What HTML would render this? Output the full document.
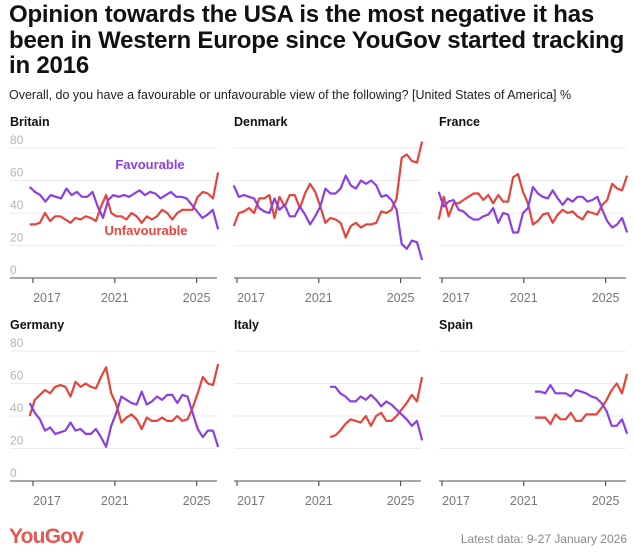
<!DOCTYPE html>
<html><head><meta charset="utf-8"><style>
body{margin:0;background:#fff;font-family:"Liberation Sans",sans-serif;}
#wrap{position:relative;width:634px;height:554px;overflow:hidden;}
h1{position:absolute;left:9px;top:2px;margin:0;font-size:24px;line-height:25.5px;font-weight:bold;color:#111;width:625px;letter-spacing:-0.2px;}
.sub{position:absolute;left:9px;top:88px;font-size:12.5px;color:#222;}
svg{position:absolute;left:0;top:0;}
</style></head><body>
<div id="wrap">
<h1>Opinion towards the USA is the most negative it has been in Western Europe since YouGov started tracking in 2016</h1>
<div class="sub">Overall, do you have a favourable or unfavourable view of the following? [United States of America] %</div>
<svg id="svg" width="634" height="554"></svg>
</div>
<script>
const countries=["Britain","Denmark","France","Germany","Italy","Spain"];
const startYears=[2016.84,2016.84,2016.84,2016.84,2021.55,2021.55];
const endYears=[2026.05,2026.05,2026.05,2026.05,2026.05,2026.05];
const favBritain=[56,53,51,47,51,50,49,55,51,53,50,50,53,44,37,48,51,50,51,50,52,54,51,53,52,49,51,53,50,50,49,45,41,37,39,42,30];
const unfBritain=[33,33,34,40,35,38,38,36,34,37,36,38,37,35,44,51,40,38,38,36,40,38,34,38,36,38,42,40,36,40,42,42,42,50,53,52,49,65];
const favDenmark=[57,50,51,50,49,43,41,40,49,42,45,38,38,44,39,33,38,44,55,52,52,55,63,57,55,60,58,60,57,50,51,48,42,21,18,23,22,11];
const unfDenmark=[32,40,41,43,40,49,49,51,37,50,44,51,51,43,52,58,53,44,34,37,36,34,25,32,34,31,33,33,34,41,40,42,49,74,76,72,71,84];
const favFrance=[53,44,47,48,42,41,38,36,36,38,39,43,34,40,39,28,28,40,43,56,52,50,49,54,49,45,49,47,50,50,47,48,50,42,35,31,33,37,28];
const unfFrance=[36,50,38,46,46,48,50,52,52,48,51,46,51,47,47,62,64,53,46,33,35,39,40,34,39,42,40,41,38,36,41,40,39,45,48,58,55,54,63];
const favGermany=[48,42,38,31,33,29,30,31,36,31,32,29,29,32,27,21,34,42,52,50,48,47,55,47,49,52,50,53,53,48,53,52,42,32,27,31,31,21];
const unfGermany=[40,50,53,56,54,58,59,58,52,61,58,60,58,57,64,70,54,47,36,39,41,38,32,39,37,37,39,37,37,40,37,38,45,54,64,60,59,72];
const favItaly=[58,58,54,52,49,49,52,50,53,50,46,49,47,44,41,38,34,37,25];
const unfItaly=[27,28,31,35,38,37,36,40,34,40,42,37,37,40,44,48,53,49,64];
const favSpain=[55,55,54,59,54,54,54,52,56,55,54,52,51,48,43,34,34,38,29];
const unfSpain=[39,39,39,35,41,38,38,42,37,37,41,41,41,45,50,56,60,54,66];
const favSeries=[favBritain,favDenmark,favFrance,favGermany,favItaly,favSpain];
const unfSeries=[unfBritain,unfDenmark,unfFrance,unfGermany,unfItaly,unfSpain];
const yTicks=[0,20,40,60,80];
const xTicks=[2017,2021,2025];

const NS="http://www.w3.org/2000/svg";
const svg=document.getElementById("svg");
function mk(tag,attrs,parent){const e=document.createElementNS(NS,tag);for(const k in attrs)e.setAttribute(k,attrs[k]);(parent||svg).appendChild(e);return e;}
const colX=[0,204,409], rowY=[0,203];
const PURPLE="#8b3fe3", RED="#e6443a";
countries.forEach((c,i)=>{
  const ox=colX[i%3], oy=rowY[Math.floor(i/3)];
  const g=mk("g",{});
  
  
  const gl=ox+(i%3===0?10:30), gr=ox+217;
  const xS=y=>ox+33+(y-2017)*20.45;
  const yS=v=>oy+278-v*1.625;
  const t=mk("text",{x:ox+(i%3===0?10:30),y:oy+126,"font-size":"12.5","font-weight":"bold",fill:"#111"},g);
  t.textContent=c;
  
  
  yTicks.forEach(v=>{
    if(v>0){const l=mk("line",{x1:gl,x2:gr,y1:yS(v),y2:yS(v),stroke:"#ebebeb","stroke-width":1},g);
      
      }
    if(i%3===0){const tx=mk("text",{x:10,y:yS(v)-4,"font-size":"12",fill:"#b5b5b5"},g);tx.textContent=v;
      
      }
  });
  const ax=mk("line",{x1:gl,x2:gr,y1:yS(0),y2:yS(0),stroke:"#8a8a8a","stroke-width":1.5},g);
  
  
  xTicks.forEach((y,k)=>{
    const tk=mk("line",{x1:xS(y),x2:xS(y),y1:yS(0),y2:yS(0)+5,stroke:"#555","stroke-width":1.2},g);
    
    
    const tx=mk("text",{x:xS(y)+(k===0?14:0),y:oy+302,"font-size":"12.5",fill:"#777","text-anchor":"middle"},g);
    tx.textContent=y;
    
    
  });
  [[unfSeries[i],RED,'unfavourable-line'],[favSeries[i],PURPLE,'favourable-line']].forEach(([arr,col,nm])=>{
    const n=arr.length, s=startYears[i], e=endYears[i];
    const pts=arr.map((v,j)=>xS(s+(e-s)*j/(n-1)).toFixed(1)+","+yS(v).toFixed(1)).join(" ");
    const p=mk("polyline",{points:pts,fill:"none",stroke:col,"stroke-width":2.2,"stroke-linejoin":"round"},g);
    
    
  });
});
const a1=mk("text",{x:150,y:169,"font-size":"13","font-weight":"bold",fill:PURPLE,"text-anchor":"middle"});
a1.textContent="Favourable";


const a2=mk("text",{x:146,y:235,"font-size":"13","font-weight":"bold",fill:RED,"text-anchor":"middle"});
a2.textContent="Unfavourable";


const logo=mk("text",{x:9,y:543,"font-size":"21","font-weight":"bold",fill:"#e5584f","letter-spacing":"-0.8"});
logo.textContent="YouGov";


const ft=mk("text",{x:627,y:543,"font-size":"12",fill:"#888","text-anchor":"end"});
ft.textContent="Latest data: 9-27 January 2026";


</script>
</body></html>
